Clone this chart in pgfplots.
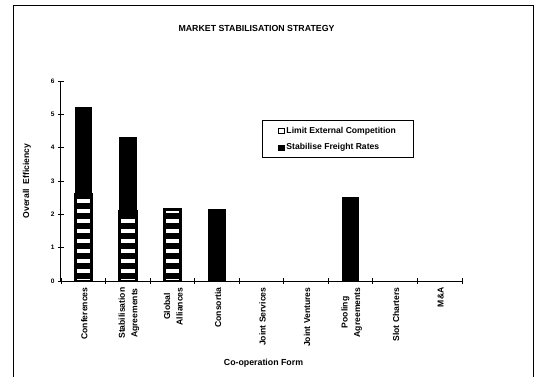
\documentclass[border=0pt]{standalone}
\usepackage{fontspec}
\setmainfont{Liberation Sans}
\usepackage{pgfplots}
\pgfplotsset{compat=1.18}
\usetikzlibrary{patterns.meta}
\begin{document}
\begin{tikzpicture}
\useasboundingbox (0,0) rectangle (539pt,376pt);
\draw[line width=0.9pt] (13pt,-2pt) -- (13pt,371pt) -- (533pt,371pt) -- (533pt,-2pt);
\node[font=\bfseries\fontsize{8.8}{10}\selectfont] at (256.5pt,348pt) {MARKET STABILISATION STRATEGY};
\begin{axis}[
  at={(61pt,95pt)}, anchor=south west,
  scale only axis, width=401pt, height=200pt,
  xmin=0, xmax=9, ymin=0, ymax=6,
  ybar stacked, bar width=16.5pt,
  axis x line=bottom, axis y line=left,
  axis line style={-, line width=1pt},
  /pgf/number format/assume math mode=true,
  xtick={0.5,1.5,...,8.5},
  major x tick style={draw=none},
  minor xtick={0,1,...,9},
  minor tick length=6pt,
  major tick length=6pt,
  tick align=center,
  tick style={line width=0.8pt, black},
  ytick={0,1,...,6},
  xticklabels={Conferences,{Stabilisation\\Agreements},{Global\\Alliances},Consortia,Joint Services,Joint Ventures,{Pooling\\Agreements},Slot Charters,M\&A},
  xticklabel style={rotate=90, anchor=east, align=center, font=\bfseries\fontsize{8.6}{12.5}\selectfont, yshift=-1pt},
  yticklabel style={font=\bfseries\fontsize{6.5}{7}\selectfont},
  xlabel={Co-operation Form},
  ylabel={Overall\ \ Efficiency},
  every axis x label/.style={at={(axis description cs:0.505,-0.41)}, anchor=center, font=\bfseries\fontsize{8.8}{10}\selectfont},
  every axis y label/.style={at={(axis description cs:-0.085,0.5)}, rotate=90, anchor=center, font=\bfseries\fontsize{8.6}{10}\selectfont},
  legend style={at={(0.501,0.805)}, anchor=north west, draw=black, line width=1pt,
     inner xsep=16pt, inner ysep=4.5pt, row sep=5pt,
     font=\bfseries\fontsize{8.6}{10}\selectfont, legend cell align=left},
  legend image code/.code={},
]
\addplot[draw=black, line width=3pt, fill=white,
  pattern={Lines[angle=0, distance=10pt, line width=6.6pt]}, pattern color=black,
  legend image code/.code={\draw[fill=white, draw=black, line width=0.9pt] (0pt,-2.6pt) rectangle (5.2pt,2.6pt);}]
  coordinates {(0.5,2.6) (1.5,2.1) (2.5,2.15) (3.5,0) (4.5,0) (5.5,0) (6.5,0) (7.5,0) (8.5,0)};
\addlegendentry{Limit External Competition}
\addplot[draw=black, line width=1pt, fill=black,
  legend image code/.code={\draw[fill=black, draw=black, line width=0.9pt] (0pt,-2.6pt) rectangle (5.2pt,2.6pt);}]
  coordinates {(0.5,2.6) (1.5,2.2) (2.5,0) (3.5,2.15) (4.5,0) (5.5,0) (6.5,2.5) (7.5,0) (8.5,0)};
\addlegendentry{Stabilise Freight Rates}
\end{axis}
\end{tikzpicture}
\end{document}
